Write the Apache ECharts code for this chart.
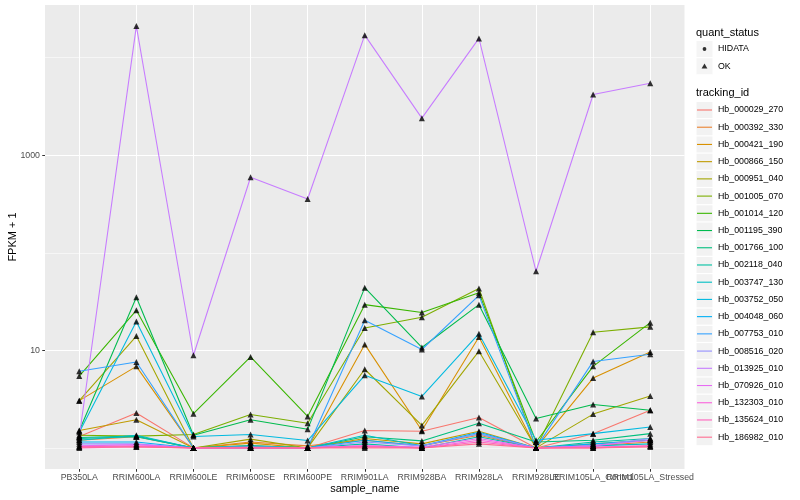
<!DOCTYPE html>
<html><head><meta charset="utf-8">
<script src="https://cdn.jsdelivr.net/npm/echarts@6/dist/echarts.min.js"></script>
<style>html,body{margin:0;padding:0;background:#fff}#c{width:800px;height:500px}</style>
</head><body><div id="c"></div>
<script>
// ---- data (values are FPKM + 1) ----
const categories = ['PB350LA','RRIM600LA','RRIM600LE','RRIM600SE','RRIM600PE','RRIM901LA','RRIM928BA','RRIM928LA','RRIM928LE','RRIM105LA_Control','RRIM105LA_Stressed'];
const trackingIds = ['Hb_000029_270','Hb_000392_330','Hb_000421_190','Hb_000866_150','Hb_000951_040','Hb_001005_070','Hb_001014_120','Hb_001195_390','Hb_001766_100','Hb_002118_040','Hb_003747_130','Hb_003752_050','Hb_004048_060','Hb_007753_010','Hb_008516_020','Hb_013925_010','Hb_070926_010','Hb_132303_010','Hb_135624_010','Hb_186982_010'];
const quantStatusLevels = ['HIDATA','OK'];
const yTickValues = [10, 1000];
const yMinorValues = [1, 100, 10000];

const Hb_000029_270 = [1.31, 2.28, 1.0, 1.02, 1.0, 1.51, 1.48, 2.05, 1.0, 1.4, 2.43];
const Hb_000392_330 = [1.2, 1.3, 1.0, 1.15, 1.05, 1.2, 1.05, 1.35, 1.0, 1.05, 1.15];
const Hb_000421_190 = [3.05, 6.85, 1.0, 1.12, 1.0, 11.5, 1.51, 13.7, 1.0, 5.2, 9.6];
const Hb_000866_150 = [1.51, 1.94, 1.0, 1.05, 1.0, 1.25, 1.1, 1.48, 1.0, 1.1, 1.2];
const Hb_000951_040 = [3.05, 14.0, 1.0, 1.23, 1.0, 6.4, 1.7, 9.8, 1.0, 2.22, 3.4];
const Hb_001005_070 = [1.35, 1.32, 1.37, 2.2, 1.79, 16.9, 21.8, 43.0, 1.0, 15.3, 17.4];
const Hb_001014_120 = [5.45, 25.7, 2.24, 8.55, 2.1, 29.4, 24.4, 39.0, 1.15, 6.85, 19.2];
const Hb_001195_390 = [1.5, 35.0, 1.35, 1.94, 1.55, 43.9, 10.7, 29.4, 2.0, 2.78, 2.43];
const Hb_001766_100 = [1.28, 1.32, 1.0, 1.05, 1.0, 1.3, 1.18, 1.79, 1.15, 1.2, 1.4];
const Hb_002118_040 = [1.25, 1.3, 1.0, 1.0, 1.0, 1.1, 1.0, 1.3, 1.0, 1.15, 1.25];
const Hb_003747_130 = [1.2, 1.35, 1.0, 1.05, 1.0, 1.35, 1.05, 1.4, 1.0, 1.05, 1.1];
const Hb_003752_050 = [1.45, 19.8, 1.31, 1.37, 1.19, 5.55, 3.37, 14.8, 1.2, 1.4, 1.64];
const Hb_004048_060 = [1.15, 1.15, 1.0, 1.0, 1.0, 1.2, 1.05, 1.45, 1.0, 1.1, 1.2];
const Hb_007753_010 = [6.1, 7.6, 1.0, 1.0, 1.0, 20.3, 10.2, 36.6, 1.0, 7.7, 9.1];
const Hb_008516_020 = [1.1, 1.1, 1.0, 1.0, 1.0, 1.15, 1.05, 1.4, 1.0, 1.05, 1.25];
const Hb_013925_010 = [1.3, 21040, 8.9, 594, 356, 17000, 2395, 15740, 64.6, 4190, 5470];
const Hb_070926_010 = [1.05, 1.08, 1.0, 1.02, 1.0, 1.05, 1.02, 1.25, 1.0, 1.05, 1.2];
const Hb_132303_010 = [1.03, 1.05, 1.0, 1.0, 1.0, 1.05, 1.0, 1.2, 1.0, 1.02, 1.05];
const Hb_135624_010 = [1.0, 1.03, 1.0, 1.0, 1.0, 1.03, 1.0, 1.15, 1.0, 1.0, 1.05];
const Hb_186982_010 = [1.02, 1.02, 1.0, 1.0, 1.0, 1.0, 1.0, 1.1, 1.0, 1.0, 1.02];

const seriesValues = [Hb_000029_270, Hb_000392_330, Hb_000421_190, Hb_000866_150, Hb_000951_040, Hb_001005_070, Hb_001014_120, Hb_001195_390, Hb_001766_100, Hb_002118_040, Hb_003747_130, Hb_003752_050, Hb_004048_060, Hb_007753_010, Hb_008516_020, Hb_013925_010, Hb_070926_010, Hb_132303_010, Hb_135624_010, Hb_186982_010];
// quant_status per series (all points read as OK)
const seriesStatus = trackingIds.map(() => 'OK');

// ---- style / layout ----
const palette = ['#F8766D','#EA8331','#D89000','#C09B00','#A3A500','#7CAE00','#39B600','#00BB4E','#00BF7D','#00C1A3','#00BFC4','#00BAE0','#00B0F6','#35A2FF','#9590FF','#C77CFF','#E76BF3','#FA62DB','#FF62BC','#FF6C91'];
const FONT = 'Liberation Sans, Arial, sans-serif';
const CW = 800, CH = 500;
const P = { left: 45, right: 115.5, top: 5, bottom: 31 };
const PW = CW - P.left - P.right, PH = CH - P.top - P.bottom;
const xPad = 0.6;
const unit = PW / (categories.length - 1 + 2 * xPad);

const allVals = [].concat(...seriesValues);
const lmin = Math.log10(Math.min(...allVals)), lmax = Math.log10(Math.max(...allVals));
const lr = lmax - lmin;
const lBot = lmin - 0.05 * lr, lTop = lmax + 0.05 * lr;
const yMin = Math.pow(10, lBot), yMax = Math.pow(10, lTop);
const yPix = v => P.top + PH * (lTop - Math.log10(v)) / (lTop - lBot);
const catIdx = categories.map((c, i) => i);
const catEven = catIdx.filter(i => i % 2 === 0), catOdd = catIdx.filter(i => i % 2 === 1);

const lineSeries = trackingIds.map((id, k) => ({
  type: 'line', name: id, xAxisIndex: 0, yAxisIndex: 0,
  data: seriesValues[k].map((v, i) => [i, v]),
  symbol: 'none', showSymbol: false,
  lineStyle: { color: palette[k], width: 1.07 },
  itemStyle: { color: palette[k] },
  z: 2, silent: true, clip: false
}));
const pointsFor = st => {
  const out = [];
  seriesValues.forEach((vals, k) => { if (seriesStatus[k] === st) vals.forEach((v, i) => out.push([i, v])); });
  return out;
};
const pointSeries = [
  { type: 'scatter', name: 'HIDATA', xAxisIndex: 0, yAxisIndex: 0, data: pointsFor('HIDATA'), symbol: 'circle', symbolSize: 4.8, itemStyle: { color: '#000' }, z: 4, silent: true, clip: false },
  { type: 'scatter', name: 'OK', xAxisIndex: 0, yAxisIndex: 0, data: pointsFor('OK'), symbol: 'triangle', symbolSize: 6, itemStyle: { color: '#000' }, z: 4, silent: true, clip: false }
];

const legendCommon = { orient: 'vertical', left: 696, itemWidth: 17, itemHeight: 17, itemGap: 0.22, padding: 0, selectedMode: false,
  textStyle: { fontFamily: FONT, fontSize: 8.8, color: '#000' } };
const bgIcon = 'path://M0,0M17,17M0.5,0.5H16.5V16.5H0.5Z';
const triIcon = 'path://M0,0M17,17M5.6,10.8L8.5,5.8L11.4,10.8Z';
const dotIcon = 'path://M0,0M17,17M10.4,8.5A1.9,1.9,0,1,1,6.6,8.5A1.9,1.9,0,1,1,10.4,8.5Z';
const lineIcon = 'path://M0,0M17,17M1,7.95H16V9.05H1Z';
const bgLegendText = { fontFamily: FONT, fontSize: 8.8, color: 'rgba(0,0,0,0)' };

const hiddenAxis = { show: true, axisLine: { show: false }, axisTick: { show: false }, axisLabel: { show: false } };
const gridLine = w => ({ show: true, lineStyle: { color: '#FFFFFF', width: w } });
const xLabelStyle = vals => ({ show: true, customValues: vals, formatter: v => categories[Math.round(v)] || '', fontFamily: FONT, fontSize: 8.8, color: '#4D4D4D', margin: 4, hideOverlap: false, showMinLabel: true, showMaxLabel: true });

const option = {
  animation: false,
  backgroundColor: '#FFFFFF',
  title: [
    { text: 'quant_status', left: 696, top: 26.5, padding: 0, textStyle: { fontFamily: FONT, fontSize: 11, fontWeight: 'normal', color: '#000', lineHeight: 13 } },
    { text: 'tracking_id', left: 696, top: 86.5, padding: 0, textStyle: { fontFamily: FONT, fontSize: 11, fontWeight: 'normal', color: '#000', lineHeight: 13 } }
  ],
  legend: [
    Object.assign({}, legendCommon, { top: 40.5, z: 3, data: quantStatusLevels.map(n => ({ name: n, icon: bgIcon, itemStyle: { color: '#F2F2F2' } })), textStyle: bgLegendText }),
    Object.assign({}, legendCommon, { top: 40.5, z: 4, data: [{ name: 'HIDATA', icon: dotIcon, itemStyle: { color: '#000' } }, { name: 'OK', icon: triIcon, itemStyle: { color: '#000' } }] }),
    Object.assign({}, legendCommon, { top: 101.5, z: 3, data: trackingIds.map(n => ({ name: n, icon: bgIcon, itemStyle: { color: '#F2F2F2' } })), textStyle: bgLegendText }),
    Object.assign({}, legendCommon, { top: 101.5, z: 4, data: trackingIds.map((n, k) => ({ name: n, icon: lineIcon, itemStyle: { color: palette[k] } })) })
  ],
  grid: [
    // main panel
    { left: P.left, right: P.right, top: P.top, bottom: P.bottom, show: true, backgroundColor: '#EBEBEB', borderWidth: 0, containLabel: false, outerBoundsMode: 'none' },
    // vertical grid lines at category centres
    { left: P.left + xPad * unit, right: P.right + xPad * unit, top: P.top, bottom: P.bottom, show: false, containLabel: false, outerBoundsMode: 'none' },
    // major horizontal grid lines (10 and 1000)
    { left: P.left, right: P.right, top: yPix(yTickValues[1]), bottom: CH - yPix(yTickValues[0]), show: false, containLabel: false, outerBoundsMode: 'none' },
    // minor horizontal grid lines (1, 100, 10000)
    { left: P.left, right: P.right, top: yPix(yMinorValues[2]), bottom: CH - yPix(yMinorValues[0]), show: false, containLabel: false, outerBoundsMode: 'none' }
  ],
  xAxis: [
    {
      gridIndex: 0, type: 'value', position: 'bottom', min: -xPad, max: categories.length - 1 + xPad,
      name: 'sample_name', nameLocation: 'middle', nameGap: 14, nameMoveOverlap: false,
      nameTextStyle: { fontFamily: FONT, fontSize: 11, color: '#000' },
      axisLine: { show: false, onZero: false },
      axisTick: { show: true, length: 2.75, lineStyle: { color: '#333333', width: 1 }, customValues: catIdx },
      axisLabel: xLabelStyle(catEven),
      splitLine: { show: false }
    },
    Object.assign({ gridIndex: 1, type: 'value', min: 0, max: categories.length - 1, interval: 1, splitLine: gridLine(1.07) }, hiddenAxis),
    Object.assign({ gridIndex: 2, type: 'value', min: 0, max: 1, splitLine: { show: false } }, hiddenAxis),
    Object.assign({ gridIndex: 3, type: 'value', min: 0, max: 1, splitLine: { show: false } }, hiddenAxis),
    // second label row sharing the same baseline (odd categories), so overlapping labels are all kept
    {
      gridIndex: 0, type: 'value', position: 'bottom', offset: 0, min: -xPad, max: categories.length - 1 + xPad,
      axisLine: { show: false, onZero: false },
      axisTick: { show: false, customValues: catOdd },
      axisLabel: xLabelStyle(catOdd),
      splitLine: { show: false }
    }
  ],
  yAxis: [
    {
      gridIndex: 0, type: 'log', logBase: 10, min: yMin, max: yMax,
      name: 'FPKM + 1', nameLocation: 'middle', nameGap: 27, nameRotate: 90, nameMoveOverlap: false,
      nameTextStyle: { fontFamily: FONT, fontSize: 11, color: '#000' },
      axisLine: { show: false, onZero: false },
      axisTick: { show: true, length: 2.75, lineStyle: { color: '#333333', width: 1 }, customValues: yTickValues },
      axisLabel: { customValues: yTickValues, formatter: v => String(Math.round(v)), fontFamily: FONT, fontSize: 8.8, color: '#4D4D4D', margin: 5, showMinLabel: true, showMaxLabel: true },
      splitLine: { show: false }, minorSplitLine: { show: false }
    },
    Object.assign({ gridIndex: 1, type: 'value', min: 0, max: 1, splitLine: { show: false } }, hiddenAxis),
    Object.assign({ gridIndex: 2, type: 'value', min: 0, max: 1, interval: 1, splitLine: gridLine(1.07) }, hiddenAxis),
    Object.assign({ gridIndex: 3, type: 'value', min: 0, max: 2, interval: 1, splitLine: gridLine(0.55) }, hiddenAxis)
  ],
  series: lineSeries.concat(pointSeries)
};
const chart = echarts.init(document.getElementById('c'), null, { renderer: 'canvas' });
chart.setOption(option);
</script></body></html>
